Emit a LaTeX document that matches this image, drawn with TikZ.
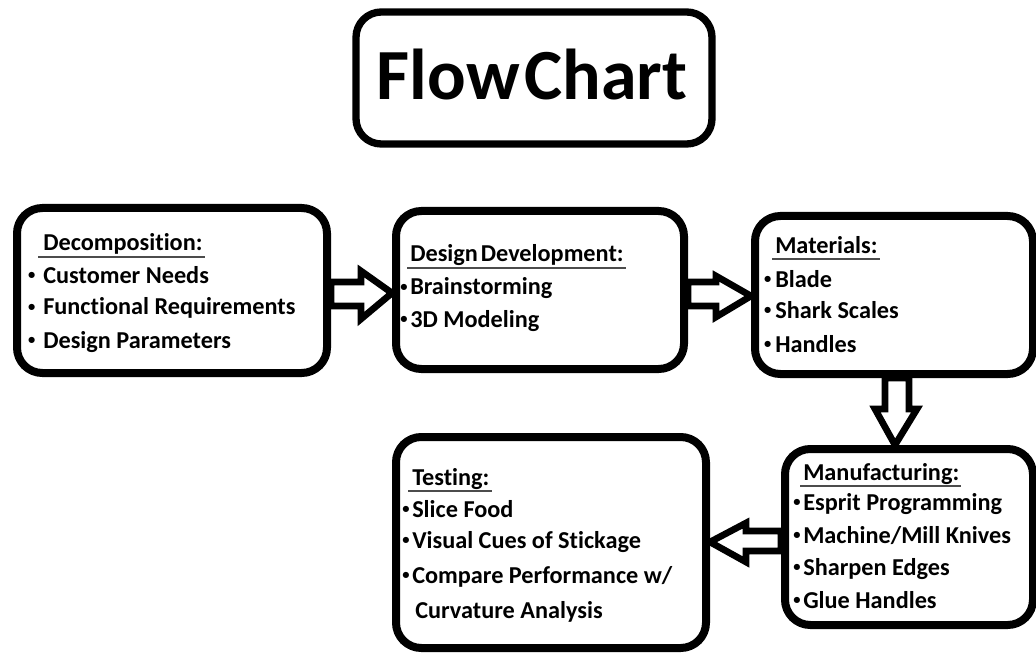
\documentclass[tikz,border=0pt]{standalone}
\usepackage{fontspec}
\setmainfont{Carlito}[Ligatures=NoCommon]
\usetikzlibrary{calc}
\pgfdeclarelayer{bg}
\pgfsetlayers{bg,main}
\newcommand\bul[1]{\llap{\raisebox{0.32ex}{\scalebox{0.6}{\textbullet}}\hspace{#1}}}
\begin{document}
\begin{tikzpicture}[x=0.75pt,y=-0.75pt,
  box/.style={draw=black,line width=6pt,rounded corners=19pt,fill=white,inner sep=0pt},
  item/.style={anchor=base west,inner sep=0pt,font=\fontsize{18.2}{22}\bfseries\selectfont},
  ul/.style={draw=black!70,line width=1.5pt},
  barrow/.style={draw=black,line width=5pt,fill=white,line join=miter}]
\useasboundingbox (0,0) rectangle (1036,656);
% boxes
\node[box,line width=5.5pt,minimum width=267pt,minimum height=99pt] (t) at (534,78) {};
\node[anchor=base,inner sep=0pt,font=\fontsize{54}{60}\bfseries\selectfont] (tt) at (532,100) {\spaceskip=0.06em\relax Flow Chart};
\node[box,minimum width=232.5pt,minimum height=123.75pt] (d1) at (172,290.5) {};
\node[box,minimum width=216pt,minimum height=118.5pt] (d2) at (540,290) {};
\node[box,minimum width=208.5pt,minimum height=118.5pt] (d3) at (894,295) {};
\node[box,minimum width=186pt,minimum height=132pt] (d4) at (909,537) {};
\node[box,minimum width=232.5pt,minimum height=158.25pt] (d5) at (551,542.5) {};
% box 1 text
\node[item] (h1) at (43,251) {Decomposition:};
\node[item] (a1) at (43,283) {\bul{6pt}Customer Needs};
\node[item] (a2) at (43,315) {\bul{6pt}Functional Requirements};
\node[item] (a3) at (43,348) {\bul{6pt}Design Parameters};
% box 2 text
\node[item] (h2) at (410,262) {\spaceskip=0.12em\relax Design Development:};
\node[item] (b1) at (410,295) {\bul{2pt}Brainstorming};
\node[item] (b2) at (410,327) {\bul{2pt}3D Modeling};
% box 3 text
\node[item] (h3) at (775,253) {Materials:};
\node[item] (c1) at (775,287) {\bul{3pt}Blade};
\node[item] (c2) at (775,318) {\bul{3pt}Shark Scales};
\node[item] (c3) at (775,352) {\bul{3pt}Handles};
% box 4 text
\node[item] (h4) at (803,480) {Manufacturing:};
\node[item] (e1) at (803,510) {\bul{2pt}Esprit Programming};
\node[item] (e2) at (803,543) {\bul{2pt}Machine/Mill Knives};
\node[item] (e3) at (803,575) {\bul{2pt}Sharpen Edges};
\node[item] (e4) at (803,608) {\bul{2pt}Glue Handles};
% box 5 text
\node[item] (h5) at (412,485) {Testing:};
\node[item] (f1) at (412,517) {\bul{2pt}Slice Food};
\node[item] (f2) at (412,548) {\bul{2pt}Visual Cues of Stickage};
\node[item] (f3) at (412,583) {\bul{2pt}Compare Performance w/};
\node[item] (f4) at (415,618) {Curvature Analysis};
% underlines
\foreach \h/\d in {h1/5,h2/3,h3/3,h4/3,h5/4}
  \draw[ul] ($(\h.base west)+(-\d,6)$) -- ($(\h.base east)+(2,6)$);
% block arrows
\begin{pgfonlayer}{bg}
\draw[barrow] ($(d1.east)+(0,-8.5)$) -- ($(d2.west)+(-31,-8)$) -- ($(d2.west)+(-31,-19)$)
  -- ($(d2.west)+(0,3)$) -- ($(d2.west)+(-31,29)$) -- ($(d2.west)+(-31,16)$)
  -- ($(d1.east)+(0,15.5)$) -- cycle;
\draw[barrow] ($(d2.east)+(0,-8)$) -- ($(d3.west)+(-35,-13)$) -- ($(d3.west)+(-35,-19)$)
  -- ($(d3.west)+(0,1)$) -- ($(d3.west)+(-35,22)$) -- ($(d3.west)+(-35,11)$)
  -- ($(d2.east)+(0,16)$) -- cycle;
\draw[barrow] ($(d3.south)+(-9,0)$) -- ($(d4.north)+(-24,-36)$) -- ($(d4.north)+(-34,-36)$)
  -- ($(d4.north)+(-14,0)$) -- ($(d4.north)+(8,-36)$) -- ($(d4.north)+(0,-36)$)
  -- ($(d3.south)+(15,0)$) -- cycle;
\draw[barrow] ($(d4.west)+(0,-6)$) -- ($(d5.east)+(36,-11.5)$) -- ($(d5.east)+(36,-19.5)$)
  -- ($(d5.east)+(0,-0.5)$) -- ($(d5.east)+(36,19.5)$) -- ($(d5.east)+(36,8.5)$)
  -- ($(d4.west)+(0,14)$) -- cycle;
\end{pgfonlayer}
\end{tikzpicture}
\end{document}
